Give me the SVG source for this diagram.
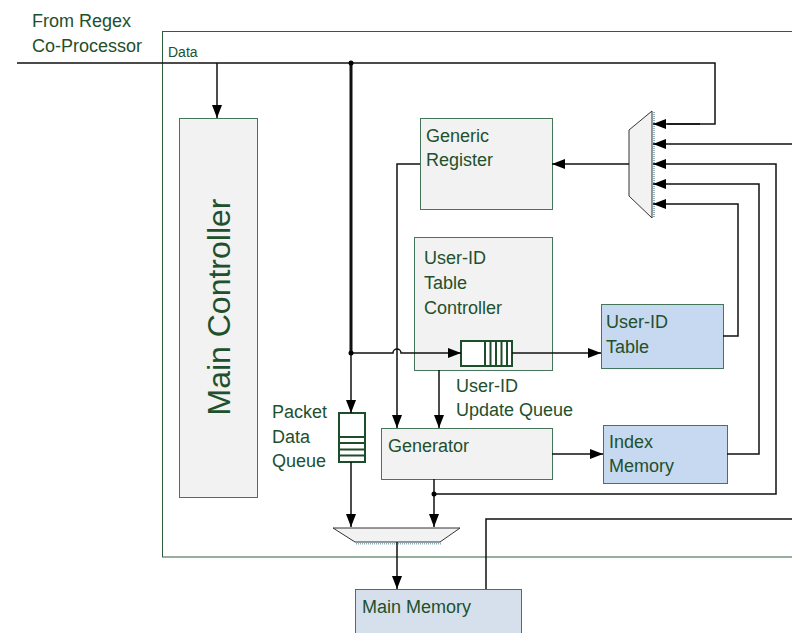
<svg xmlns="http://www.w3.org/2000/svg" width="792" height="633" viewBox="0 0 792 633">
<defs>
<marker id="ah" markerUnits="userSpaceOnUse" markerWidth="14" markerHeight="10" refX="13" refY="5" orient="auto">
<path d="M0,0 L13,5 L0,10 z" fill="#000"/>
</marker>
<style>
.t{font-family:"Liberation Sans",Arial,sans-serif;font-size:18px;fill:#21502d}
.box{fill:#f2f2f2;stroke:#46765a;stroke-width:1}
.blue{fill:#c6d9f0;stroke:#46765a;stroke-width:1}
.mm{fill:#d6e0ec;stroke:#46765a;stroke-width:1}
.q{fill:#fff;stroke:#1e4d2b;stroke-width:2}
.ql{stroke:#1e4d2b;stroke-width:2;fill:none}
.c{fill:none;stroke:#111;stroke-width:1.5}
.ca{fill:none;stroke:#111;stroke-width:1.5;marker-end:url(#ah)}
.mux{fill:#f2f2f2;stroke:#333;stroke-width:1}
.sh{stroke:#8fb0c0;stroke-width:2;stroke-dasharray:1 1;fill:none}
</style>
</defs>
<rect id="outer" x="162.5" y="31.5" width="700" height="525.5" fill="none" stroke="#2e5e3a" stroke-width="1"/>
<text class="t" x="32" y="27">From Regex</text>
<text class="t" x="32" y="52">Co-Processor</text>
<text class="t" x="168" y="57" style="font-size:14px">Data</text>

<g id="main-controller">
<rect class="box" x="179.5" y="118.5" width="78" height="379"/>
<text class="t" x="230" y="307" text-anchor="middle" transform="rotate(-90 230 307)" style="font-size:32px">Main Controller</text>
</g>
<g id="generic-register">
<rect class="box" x="420.5" y="118.5" width="132" height="91"/>
<text class="t" x="426" y="142">Generic</text>
<text class="t" x="426" y="166">Register</text>
</g>
<g id="uid-table-controller">
<rect class="box" x="414.5" y="237.5" width="138" height="133"/>
<text class="t" x="424" y="264">User-ID</text>
<text class="t" x="424" y="289">Table</text>
<text class="t" x="424" y="314">Controller</text>
</g>
<g id="uid-update-queue">
<rect class="q" x="461" y="341" width="51" height="25"/>
<path class="ql" d="M485,341 V366 M490.5,341 V366 M496,341 V366 M501.5,341 V366 M507,341 V366"/>
<text class="t" x="456" y="392">User-ID</text>
<text class="t" x="456" y="416">Update Queue</text>
</g>
<g id="uid-table">
<rect class="blue" x="601.5" y="304.5" width="122" height="64"/>
<text class="t" x="606" y="328">User-ID</text>
<text class="t" x="606" y="353">Table</text>
</g>
<g id="generator">
<rect class="box" x="381.5" y="428.5" width="171" height="51"/>
<text class="t" x="388" y="452">Generator</text>
</g>
<g id="index-memory">
<rect class="blue" x="603.5" y="425.5" width="124" height="58"/>
<text class="t" x="609" y="448">Index</text>
<text class="t" x="609" y="472">Memory</text>
</g>
<g id="packet-data-queue">
<rect class="q" x="339" y="413" width="26" height="49"/>
<path class="ql" d="M339,437 H365 M339,443 H365 M339,449.5 H365 M339,455.5 H365"/>
<text class="t" x="272" y="418">Packet</text>
<text class="t" x="272" y="443">Data</text>
<text class="t" x="272" y="467">Queue</text>
</g>
<g id="mux-right">
<polygon class="mux" points="629,130 652,111 652,218 629,196"/>
<line class="sh" x1="654" y1="112" x2="654" y2="218"/>
</g>
<g id="mux-bottom">
<polygon class="mux" points="333,528 460,528 440,542 355,542"/>
<line class="sh" x1="356" y1="543.5" x2="441" y2="543.5"/>
</g>
<g id="main-memory">
<rect class="mm" x="355.5" y="589.5" width="166" height="60"/>
<text class="t" x="362" y="613">Main Memory</text>
</g>

<g id="connectors">
<path class="c" d="M17,63 H715 V124 H667"/>
<path class="ca" d="M700,124 H653"/>
<path class="ca" d="M217,63 V118"/>
<path class="c" d="M351,63 V353" style="stroke-width:3"/>
<path class="ca" d="M351,353 V413"/>
<path class="ca" d="M351,353 H393 A4,4 0 0 1 401,353 H461"/>
<path class="ca" d="M512,353 H601"/>
<path class="ca" d="M629,164 H552"/>
<path class="ca" d="M420,164 H397 V428"/>
<path class="ca" d="M439,370 V428"/>
<path class="ca" d="M552,454 H603"/>
<path class="ca" d="M723,336 H738 V204 H653"/>
<path class="ca" d="M727,454 H759 V184 H653"/>
<path class="ca" d="M434,479 V527"/>
<path class="ca" d="M434,494 H776 V164 H653"/>
<path class="ca" d="M792,144 H653"/>
<path class="ca" d="M351,462 V527"/>
<path class="ca" d="M397,542 V589"/>
<path class="c" d="M486,589 V519 H792"/>
<circle cx="351" cy="63" r="2.5" fill="#000"/>
<circle cx="351" cy="353" r="2.5" fill="#000"/>
<circle cx="434" cy="494" r="2.5" fill="#000"/>
</g>
</svg>
